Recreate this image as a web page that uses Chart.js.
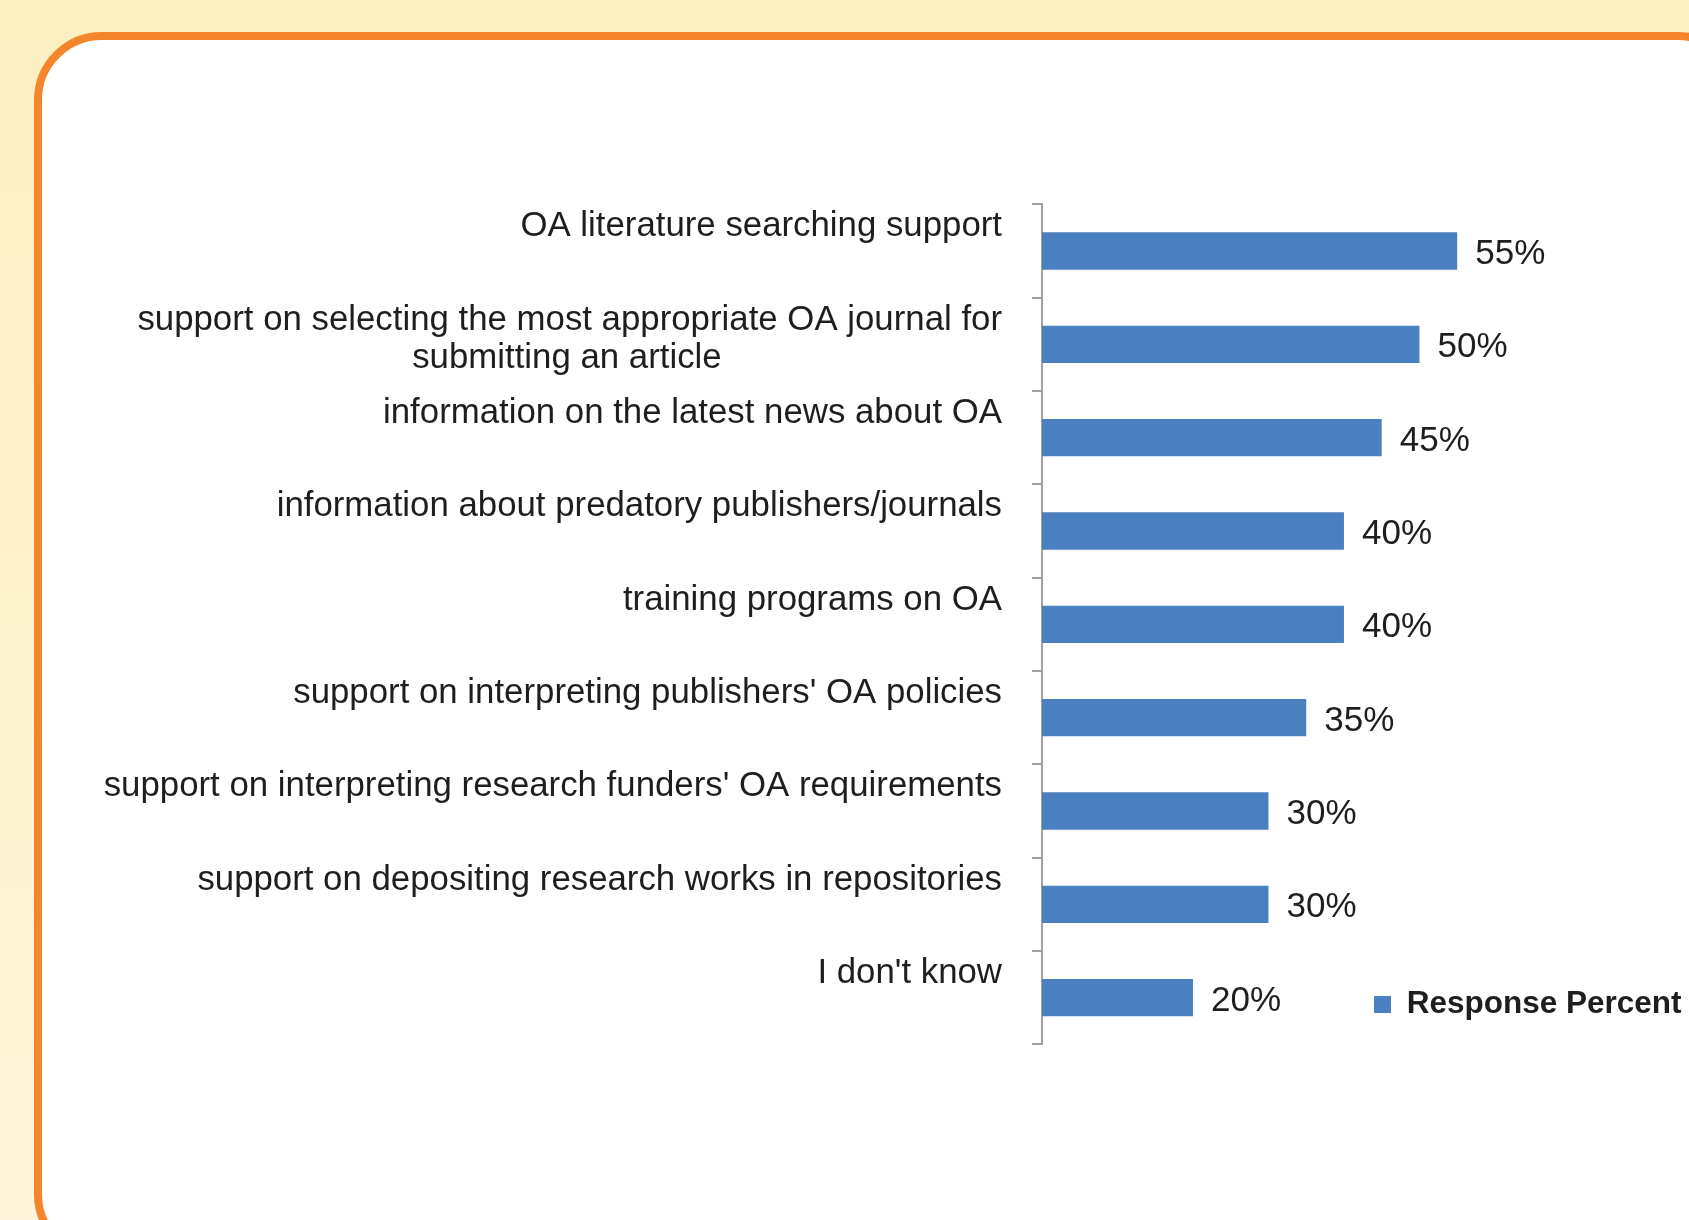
<!DOCTYPE html>
<html>
<head>
<meta charset="utf-8">
<script src="https://cdn.jsdelivr.net/npm/chart.js@4.4.0/dist/chart.umd.min.js"></script>
<style>
  html, body { margin: 0; padding: 0; }
  body {
    width: 1689px; height: 1220px; overflow: hidden; position: relative;
    background: linear-gradient(to bottom, #fcefc0, #fef5dc);
  }
  .panel {
    position: absolute; left: 34px; top: 32px;
    width: 1712px; height: 1230px; box-sizing: border-box;
    border: 8px solid #f5852a; border-radius: 68px; background: #fff;
  }
  #chart { position: absolute; left: 0; top: 0; }
</style>
</head>
<body>
<div class="panel"></div>
<canvas id="chart" width="1689" height="1220"></canvas>
<script>
// chart data
const categories = [
  'OA literature searching support',
  'support on selecting the most appropriate OA journal for\nsubmitting an article',
  'information on the latest news about OA',
  'information about predatory publishers/journals',
  'training programs on OA',
  "support on interpreting publishers' OA policies",
  "support on interpreting research funders' OA requirements",
  'support on depositing research works in repositories',
  "I don't know"
];
const responsePercent = [55, 50, 45, 40, 40, 35, 30, 30, 20];
const seriesName = 'Response Percent';

const FONT = '"Liberation Sans", Arial, sans-serif';
const TEXT = '#1e1e1e';
const AXIS = '#a0a0a0';
const LABEL_SIZE = 34.8;

// Excel puts the first line of every label at the same height, and centres
// wrapped lines under each other; pad lines so Chart.js does the same
const measure = document.createElement('canvas').getContext('2d');
measure.font = LABEL_SIZE + 'px ' + FONT;
const tickLabels = categories.map(c => {
  const lines = c.split('\n');
  if (lines.length === 1) return [lines[0], ''];
  const w0 = measure.measureText(lines[0]).width;
  const w1 = measure.measureText(lines[1]).width;
  const sp = measure.measureText('\u00a0').width;
  const n = Math.round((w0 - w1) / 2 / sp);
  return [lines[0], lines[1] + '\u00a0'.repeat(Math.max(n, 0))];
});

const valueLabels = {
  id: 'valueLabels',
  afterDatasetsDraw(chart) {
    const ctx = chart.ctx;
    const meta = chart.getDatasetMeta(0);
    ctx.save();
    ctx.font = '35px ' + FONT;
    ctx.fillStyle = TEXT;
    ctx.textAlign = 'left';
    ctx.textBaseline = 'middle';
    meta.data.forEach((bar, i) => {
      ctx.fillText(responsePercent[i] + '%', bar.x + 18, bar.y + 3.5);
    });
    ctx.restore();
  }
};

new Chart(document.getElementById('chart'), {
  type: 'bar',
  data: {
    labels: tickLabels,
    datasets: [{
      label: seriesName,
      data: responsePercent,
      backgroundColor: '#4a80bf',
      borderWidth: 0,
      barPercentage: 0.4,
      categoryPercentage: 1,
      clip: false
    }]
  },
  options: {
    indexAxis: 'y',
    responsive: false,
    animation: false,
    layout: {
      autoPadding: false,
      padding: { left: 0, right: 0, top: 204.3, bottom: 175.7 }
    },
    scales: {
      x: {
        display: false,
        min: 0,
        max: 40.8
      },
      y: {
        afterFit: s => { s.width = 1042; },
        grid: {
          display: true,
          drawOnChartArea: false,
          drawTicks: true,
          tickLength: 10,
          color: AXIS,
          lineWidth: 2
        },
        border: { display: true, color: AXIS, width: 2 },
        ticks: {
          autoSkip: false,
          padding: 30,
          labelOffset: -5,
          color: TEXT,
          font: { family: FONT, size: LABEL_SIZE, lineHeight: 1.103 }
        }
      }
    },
    plugins: {
      tooltip: { enabled: false },
      legend: {
        position: 'right',
        align: 'end',
        maxWidth: 339,
        labels: {
          boxWidth: 17,
          boxHeight: 17,
          padding: 24,
          color: TEXT,
          font: { family: FONT, size: 31.5, weight: 'bold' }
        }
      }
    }
  },
  plugins: [valueLabels]
});
</script>
</body>
</html>
